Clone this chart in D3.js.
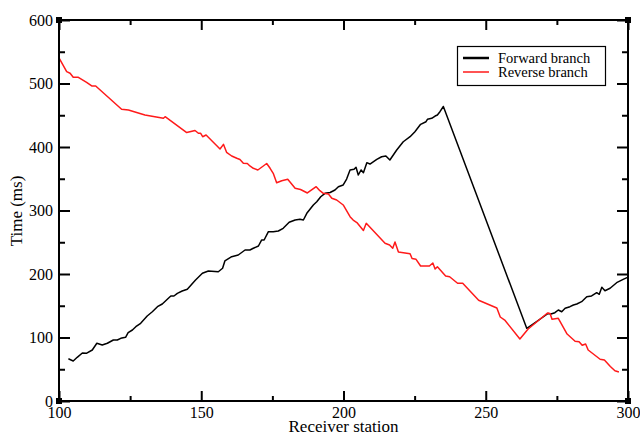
<!DOCTYPE html>
<html><head><meta charset="utf-8">
<script src="https://cdn.jsdelivr.net/npm/d3@7"></script>
<style>body{margin:0;background:#fff}svg{display:block}</style>
</head><body>
<svg id="c" width="640" height="436"></svg>
<script>
const forwardStation = [103.3,105.0,106.4,108.2,109.6,111.7,113.3,115.2,117.0,119.1,120.5,121.7,123.4,124.3,125.8,127.0,128.7,131.0,132.8,134.6,136.3,139.3,140.4,141.6,143.3,145.1,148.0,150.4,152.5,156.0,157.5,158.3,160.7,163.0,165.4,167.1,168.3,170.1,171.2,172.1,173.6,175.3,177.1,178.8,180.9,183.0,184.7,185.9,187.1,189.4,190.6,192.0,193.5,195.3,197.0,198.2,199.9,201.1,202.3,203.7,204.4,205.2,206.2,207.0,208.2,209.3,211.7,213.4,214.9,216.3,218.7,221.0,223.4,225.1,227.1,229.0,229.5,231.0,232.2,233.0,233.9,235.1,264.4,265.6,271.9,272.9,274.3,275.5,276.7,277.9,279.6,280.8,282.0,283.7,285.5,287.2,289.0,289.9,290.8,291.9,293.7,296.0,298.3,300.0];
const forwardTime = [66.6,63.0,68.8,75.6,75.1,80.3,90.9,88.2,90.9,96.1,96.1,98.7,100.3,107.6,111.8,117.0,122.4,133.9,140.6,148.5,152.8,165.4,165.4,169.6,173.2,175.9,190.6,201.1,204.7,203.6,209.0,220.5,227.2,229.9,237.8,237.8,240.5,244.1,253.5,253.5,266.6,266.6,267.7,272.0,281.4,285.0,286.1,285.0,295.6,308.7,313.9,321.7,327.1,328.3,332.3,337.5,340.2,349.6,363.8,364.9,368.0,355.9,363.8,359.5,375.3,373.2,380.6,384.7,385.8,379.5,395.3,408.3,416.2,424.1,435.7,439.8,443.6,445.2,448.8,450.4,455.6,463.8,114.5,118.1,137.8,137.0,139.1,143.3,140.6,146.0,148.5,151.2,152.8,156.4,164.3,165.4,170.5,168.0,179.1,173.7,177.5,186.3,191.6,195.0];
const reverseStation = [100.0,102.7,103.9,105.0,106.8,109.7,111.5,112.9,122.0,124.4,130.2,133.7,136.7,137.3,144.9,147.8,149.0,149.8,150.5,151.7,156.6,157.8,158.9,160.7,162.5,163.6,164.8,166.2,167.1,168.3,169.9,173.0,174.2,175.3,176.5,178.3,180.4,183.0,184.9,187.3,190.4,191.7,192.9,194.7,195.9,197.6,199.9,202.3,203.4,204.7,207.0,208.0,214.6,216.2,217.3,218.1,219.3,223.4,224.1,225.5,227.1,230.2,231.4,232.2,233.0,235.9,237.3,240.1,241.9,247.5,253.9,255.1,256.8,262.0,264.9,271.7,272.6,273.3,275.5,278.6,281.4,282.8,283.9,285.1,286.0,290.2,291.7,293.8,295.4,296.8];
const reverseTime = [540.2,518.6,516.1,509.8,509.8,501.9,496.1,496.1,459.4,458.3,450.4,447.7,445.2,447.7,422.8,426.0,421.6,421.6,416.2,418.9,396.9,404.2,391.7,385.8,382.2,380.3,374.3,374.0,370.1,366.5,363.8,374.0,366.5,358.6,343.8,346.9,349.1,335.0,333.1,327.6,337.5,331.2,327.1,326.0,319.2,316.5,308.7,290.2,285.0,281.1,268.5,279.8,248.3,245.7,240.5,250.4,234.6,232.0,224.4,223.1,212.6,212.6,217.3,207.9,211.5,196.9,195.7,185.4,185.4,158.6,146.5,132.3,126.8,97.6,113.4,138.6,137.8,128.7,130.2,105.5,94.2,93.4,87.7,89.8,80.3,65.7,64.6,54.3,47.7,45.7];
const xMajorTicks = [100,150,200,250,300];
const xMinorTicks = [125,175,225,275];
const yMajorTicks = [0,100,200,300,400,500,600];
const yMinorTicks = [50,150,250,350,450,550];
const seriesNames = ["Forward branch","Reverse branch"];
const seriesColors = ["#000000","#ff1a1a"];

const L=59,R=628,T=20,B=401;
const svg=d3.select("#c");
const x=d3.scaleLinear().domain([100,300]).range([L,R]);
const y=d3.scaleLinear().domain([0,600]).range([B,T]);
const font="'Liberation Serif','Times New Roman',serif";

function ax(gen,tr,vals,size,labels){
  const g=svg.append("g").attr("transform",tr).call(gen.tickValues(vals).tickSize(size).tickFormat(labels?d3.format("d"):""));
  g.select(".domain").remove();
  g.selectAll("line").attr("stroke","#000").attr("stroke-width",2);
  g.selectAll("text").attr("font-family",font).attr("font-size",16).attr("fill","#000");
  return g;
}
const gb=ax(d3.axisBottom(x),`translate(0,${B})`,xMajorTicks,-10,true);
gb.selectAll("text").attr("y",6).attr("dy","0.71em");
ax(d3.axisBottom(x),`translate(0,${B})`,xMinorTicks,-5,false);
ax(d3.axisTop(x),`translate(0,${T})`,xMajorTicks,-10,false);
ax(d3.axisTop(x),`translate(0,${T})`,xMinorTicks,-5,false);
const gl=ax(d3.axisLeft(y),`translate(${L},0)`,yMajorTicks,-11,true);
gl.selectAll("text").attr("x",-6);
ax(d3.axisLeft(y),`translate(${L},0)`,yMinorTicks,-6,false);
ax(d3.axisRight(y),`translate(${R},0)`,yMajorTicks,-11,false);
ax(d3.axisRight(y),`translate(${R},0)`,yMinorTicks,-6,false);

const line=d3.line().x(d=>x(d[0])).y(d=>y(d[1]));
const fwd=forwardStation.map((s,i)=>[s,forwardTime[i]]);
const rev=reverseStation.map((s,i)=>[s,reverseTime[i]]);
svg.append("path").datum(fwd).attr("d",line).attr("fill","none").attr("stroke",seriesColors[0]).attr("stroke-width",1.5).attr("stroke-linejoin","round");
svg.append("path").datum(rev).attr("d",line).attr("fill","none").attr("stroke",seriesColors[1]).attr("stroke-width",1.5).attr("stroke-linejoin","round");

svg.append("rect").attr("x",L).attr("y",T).attr("width",R-L).attr("height",B-T).attr("fill","none").attr("stroke","#000").attr("stroke-width",2);
[[L,T],[R,T],[L,B],[R,B]].forEach(p=>svg.append("rect").attr("x",p[0]-3).attr("y",p[1]-3).attr("width",6).attr("height",6).attr("fill","#000"));

svg.append("text").attr("x",(L+R)/2).attr("y",432).attr("text-anchor","middle").attr("font-family",font).attr("font-size",17).text("Receiver station");
svg.append("text").attr("transform","translate(22,211) rotate(-90)").attr("text-anchor","middle").attr("font-family",font).attr("font-size",17).text("Time (ms)");

const lg=svg.append("g");
lg.append("rect").attr("x",457.5).attr("y",46.5).attr("width",148).attr("height",39).attr("fill","#fff").attr("stroke","#000").attr("stroke-width",1.2);
seriesNames.forEach((n,i)=>{
  const yy=58+i*14;
  lg.append("line").attr("x1",463).attr("x2",489).attr("y1",yy).attr("y2",yy).attr("stroke",seriesColors[i]).attr("stroke-width",i?1.5:2.5);
  lg.append("text").attr("x",498).attr("y",yy+5).attr("font-family",font).attr("font-size",14.5).text(n);
});
</script>
</body></html>
